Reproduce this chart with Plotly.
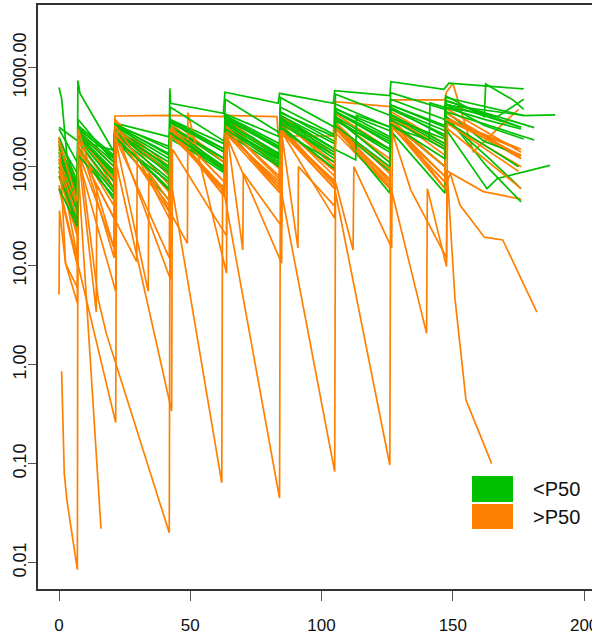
import plotly.graph_objects as go

# Concentration-time profiles, one list of (day, concentration) per subject.
# Group below the median (<P50)
g01 = [(0, 630), (1, 490), (3, 130), (7, 48), (7.3, 300), (21, 110), (21.3, 250), (42, 95), (42.3, 260),
       (63, 120), (63.3, 300), (84, 130), (84.3, 330), (105, 150), (105.3, 360), (126, 170), (126.3, 400),
       (147, 200), (147.3, 430), (176, 250)]
g02 = [(0, 180), (7, 85), (7.2, 740), (8, 550), (21, 140), (21.3, 275), (42, 200), (42.2, 620), (42.5, 437),
       (62.6, 346), (63.2, 565), (83.5, 437), (84, 551), (104.5, 437), (105, 585), (126, 522), (126.4, 722),
       (146.6, 605), (148.5, 696), (177, 610)]
g03 = [(0, 250), (6.6, 186), (21, 146), (21.3, 260), (42, 160), (42.3, 300), (63, 170), (63.3, 340), (84, 200),
       (84.3, 400), (105, 210), (105.3, 430), (126, 250), (126.3, 480), (147, 300), (147.3, 520), (162, 320),
       (162.5, 685), (173, 470), (177, 380)]
g04 = [(0, 120), (7, 40), (7.3, 200), (21, 80), (21.3, 230), (42, 90), (42.3, 260), (63, 110), (63.3, 290),
       (84, 130), (84.3, 320), (105, 150), (105.3, 350), (126, 180), (126.3, 380), (147, 210), (147.3, 430),
       (162, 260), (177, 190)]
g05 = [(0, 100), (7, 30), (7.3, 180), (21, 60), (21.3, 210), (42, 75), (42.3, 230), (63, 95), (63.3, 260),
       (84, 110), (84.3, 280), (105, 120), (105.3, 300), (126, 140), (126.3, 330), (147, 160), (147.3, 360),
       (162, 180), (176, 130)]
g06 = [(0, 150), (7, 55), (7.3, 220), (21, 100), (21.3, 240), (42, 110), (42.3, 280), (63, 140), (63.3, 320),
       (84, 160), (84.3, 360), (105, 180), (105.3, 390), (126, 200), (126.3, 420), (147, 250), (147.3, 470),
       (176, 250)]
g07 = [(0, 90), (7, 23), (7.3, 160), (21, 46), (21.3, 190), (42, 46), (42.3, 200), (63, 86), (63.3, 240),
       (84, 117), (84.3, 260), (105, 93), (105.3, 250), (126, 90), (126.3, 280), (147, 100), (147.3, 300),
       (164, 120), (176, 60)]
g08 = [(0, 130), (7, 45), (7.3, 210), (21, 90), (21.3, 225), (42, 100), (42.3, 250), (63, 120), (63.3, 280),
       (84, 135), (84.3, 300), (105, 140), (105.3, 320), (126, 150), (126.3, 340), (147, 170), (147.3, 330),
       (163, 100), (176, 44)]
g09 = [(0, 200), (7, 70), (7.3, 250), (21, 120), (21.3, 265), (42, 130), (42.3, 300), (63, 150), (63.3, 330),
       (84, 170), (84.3, 350), (105, 200), (105.3, 380), (126, 230), (126.3, 420), (147, 260), (147.3, 460),
       (162, 350), (181, 248)]
g10 = [(0, 110), (7, 35), (7.3, 190), (21, 70), (21.3, 200), (42, 60), (42.3, 190), (63, 95), (63.3, 220),
       (84, 100), (84.3, 230), (105, 110), (105.3, 250), (126, 54), (126.3, 230), (147, 54), (147.3, 240),
       (163, 60), (167, 76), (187, 103)]
g11 = [(0, 170), (7, 60), (7.3, 230), (21, 110), (21.3, 255), (42, 120), (42.3, 290), (63, 140), (63.3, 310),
       (84, 150), (84.3, 330), (105, 170), (105.3, 360), (126, 190), (126.3, 390), (147, 230), (147.3, 420),
       (177, 330)]
g12 = [(0, 80), (7, 28), (7.3, 150), (21, 55), (21.3, 185), (42, 70), (42.3, 210), (63, 100), (63.3, 250),
       (84, 120), (84.3, 270), (105, 130), (105.3, 290), (126, 150), (126.3, 310), (147, 190), (147.3, 360),
       (181, 186)]
g13 = [(0, 140), (7, 50), (7.3, 200), (21, 85), (21.3, 220), (42, 85), (42.3, 240), (63, 100), (63.3, 270),
       (84, 125), (84.3, 290), (105, 130), (105.3, 310), (126, 110), (126.3, 300), (147, 150), (147.3, 400),
       (167, 320), (177, 480)]
g14 = [(0, 240), (7, 110), (7.3, 260), (21, 130), (21.3, 270), (42, 150), (42.3, 400), (63, 180), (63.3, 480),
       (84, 220), (84.3, 500), (105, 250), (105.3, 540), (126, 330), (126.3, 560), (147, 380), (147.3, 500),
       (177, 328), (189, 333)]
g15 = [(0, 160), (7, 65), (7.3, 240), (21, 125), (21.3, 260), (42, 135), (42.3, 280), (63, 150), (63.3, 300),
       (84, 155), (84.3, 310), (105, 150), (113, 117), (113.3, 330), (141, 186), (141.3, 440), (162, 300),
       (176, 240)]
g16 = [(0, 60), (7, 25), (7.3, 130), (21, 50), (21.3, 200), (42, 58), (42.3, 220), (63, 90), (63.3, 240),
       (84, 105), (84.3, 250), (105, 95), (105.3, 260), (126, 100), (126.3, 270), (147, 120), (147.3, 290),
       (175, 100)]

# Group above the median (>P50)
o01 = [(0, 150), (7, 60), (7.3, 200), (21, 90), (21.3, 325), (42, 325), (42.3, 330), (62.5, 320), (62.8, 330),
       (83, 320), (83.5, 204), (104.5, 204), (105, 453), (126, 404), (126.3, 472), (147, 472), (147.5, 560),
       (150, 696), (157.8, 142), (175, 380)]
o02 = [(0, 170), (7, 50), (7.3, 250), (21, 60), (21.3, 300), (42, 80), (42.3, 280), (63, 90), (63.3, 290),
       (84, 95), (84.3, 300), (105, 100), (105.3, 320), (126, 110), (126.3, 330), (147, 130), (147.3, 350),
       (175, 130)]
o03 = [(0, 140), (7, 35), (7.3, 220), (21, 70), (21.3, 260), (42, 65), (42.3, 250), (63, 70), (63.3, 260),
       (84, 75), (84.3, 270), (105, 80), (105.3, 280), (126, 85), (126.3, 300), (147, 100), (147.3, 320),
       (176, 120)]
o04 = [(0, 100), (7, 25), (7.3, 180), (21, 55), (21.3, 230), (42, 55), (42.3, 230), (63, 60), (63.3, 240),
       (84, 60), (84.3, 250), (105, 65), (105.3, 260), (126, 70), (126.3, 270), (147, 60), (147.3, 92),
       (161.6, 56), (176, 47)]
o05 = [(0, 190), (7, 70), (7.3, 230), (21, 100), (21.3, 280), (42, 100), (42.3, 300), (63, 110), (63.3, 310),
       (84, 120), (84.3, 330), (105, 130), (105.3, 340), (126, 150), (126.3, 360), (147, 170), (147.3, 390),
       (176, 140)]
o06 = [(0, 120), (7, 40), (7.3, 200), (21, 75), (21.3, 250), (42, 85), (42.3, 260), (63, 95), (63.3, 280),
       (84, 100), (84.3, 290), (105, 110), (105.3, 300), (126, 120), (126.3, 320), (147, 150), (147.3, 350),
       (176, 123)]
o07 = [(0, 80), (7, 20), (7.3, 160), (21, 40), (21.3, 210), (42, 40), (42.3, 220), (63, 55), (63.3, 230),
       (84, 65), (84.3, 240), (105, 70), (105.3, 250), (126, 75), (126.3, 260), (147, 80), (147.3, 280),
       (176, 100)]
o08 = [(0, 90), (7, 20), (7.3, 140), (21, 15), (21.3, 200), (34, 5.5), (34.2, 85), (48.9, 16.8), (49.1, 350),
       (63.8, 8.4), (64, 220), (70, 14.4), (70.2, 86), (84.8, 25), (85, 200), (91, 15.1), (91.2, 100),
       (105, 40), (105.3, 220), (126, 60), (126.3, 250), (134, 58), (147.6, 12), (148, 300), (176, 150)]
o09 = [(1, 0.86), (2, 0.08), (3, 0.043), (7, 0.0085), (7.2, 150), (14.2, 3.4), (14.4, 65), (29.6, 11),
       (29.8, 126), (42, 30), (42.3, 250), (63, 55), (63.3, 250), (84, 60), (84.3, 260), (105, 65),
       (105.3, 270), (126, 70), (126.3, 280), (147, 80), (147.3, 300), (176, 130)]
o10 = [(0, 110), (7, 30), (7.3, 95), (16, 0.022)]
o11 = [(0, 120), (7, 12), (7.3, 180), (15, 4.5), (18, 2.07), (42, 0.02), (42.3, 80), (62, 0.064), (62.3, 66),
       (84, 0.045), (84.3, 63), (105, 0.083), (105.3, 55), (126, 0.097), (126.3, 63), (140, 2.07), (140.3, 60),
       (147.6, 9.8), (147.8, 92), (150.8, 4.7), (155, 0.44), (161.6, 0.16), (164.8, 0.1)]
o12 = [(0, 65), (21.6, 0.26), (21.9, 104), (42.9, 0.34), (43.2, 150), (63.8, 20), (64, 200), (84.8, 10.6),
       (85, 220), (105, 30), (105.3, 70), (112, 14.4), (112.3, 100), (126.7, 15.1), (127, 300), (147, 60),
       (149, 86), (152.7, 41), (162, 19.4), (169, 18.2), (182, 3.4)]
o13 = [(0, 5.1), (0.2, 36), (2.5, 10.5), (7, 4.2), (7.3, 120), (21.6, 5.5), (21.9, 220), (42.5, 7.2),
       (42.8, 250), (63, 70), (63.3, 260), (84, 80), (84.3, 250), (105, 90), (105.3, 260), (126, 95),
       (126.3, 280), (147, 100), (147.3, 300), (175, 150)]
o14 = [(0, 200), (2.5, 10.5), (7, 6), (7.3, 200), (21, 12), (21.3, 230), (42, 35), (42.3, 250), (63, 50),
       (63.3, 250), (84, 55), (84.3, 240), (105, 60), (105.3, 250), (126, 65), (126.3, 260), (147, 70),
       (147.3, 280), (175, 90)]
o15 = [(0, 60), (7, 10), (7.3, 150), (21, 30), (21.3, 260), (42, 45), (42.3, 240), (63, 50), (63.3, 220),
       (84, 55), (84.3, 230), (105, 60), (105.3, 240), (126, 62), (126.3, 260), (147, 70), (147.3, 250),
       (176, 60)]
o16 = [(0, 180), (7, 45), (7.3, 240), (21, 15), (21.3, 200), (42, 12), (42.3, 210), (63, 60), (63.3, 220),
       (84, 70), (84.3, 230), (105, 72), (105.3, 220)]

below_p50 = [g01, g02, g03, g04, g05, g06, g07, g08, g09, g10, g11, g12, g13, g14, g15, g16]
above_p50 = [o01, o02, o03, o04, o05, o06, o07, o08, o09, o10, o11, o12, o13, o14, o15, o16]

group_labels = ["<P50", ">P50"]
group_colors = ["#00C000", "#FF8000"]

x_ticks = [0, 50, 100, 150, 200]
y_ticks = [0.01, 0.1, 1, 10, 100, 1000]
y_tick_text = ["0.01", "0.10", "1.00", "10.00", "100.00", "1000.00"]

FONT = "Liberation Sans, Arial, Helvetica, sans-serif"

fig = go.Figure()


def add_profile(points, color):
    fig.add_trace(go.Scatter(
        x=[p[0] for p in points],
        y=[p[1] for p in points],
        mode="lines",
        line=dict(color=color, width=1.7),
        showlegend=False,
        hoverinfo="skip",
    ))


for i in range(max(len(below_p50), len(above_p50))):
    if i < len(below_p50):
        add_profile(below_p50[i], group_colors[0])
    if i < len(above_p50):
        add_profile(above_p50[i], group_colors[1])

# Legend: filled colour keys with labels, lower right of the panel
key_x0, key_x1 = 0.7834, 0.8574
key_rows = [(0.149, 0.1935), (0.1027, 0.1455)]
for (y0, y1), label, color in zip(key_rows, group_labels, group_colors):
    fig.add_shape(type="rect", xref="paper", yref="paper", x0=key_x0, x1=key_x1, y0=y0, y1=y1,
                  fillcolor=color, line=dict(width=0))
    fig.add_annotation(xref="paper", yref="paper", x=0.889, y=(y0 + y1) / 2, xanchor="left",
                       yanchor="middle", showarrow=False,
                       text=label.replace("<", "&lt;").replace(">", "&gt;"),
                       font=dict(family=FONT, size=20, color="#111"))

fig.update_layout(
    width=592, height=634,
    margin=dict(l=38, r=0, t=5, b=45, autoexpand=False),
    paper_bgcolor="white", plot_bgcolor="white",
    showlegend=False,
    xaxis=dict(
        range=[-8, 203],
        tickvals=x_ticks,
        ticks="outside", ticklen=10, tickwidth=1.2, tickcolor="#555",
        showline=True, linecolor="#333", linewidth=1.6, mirror=True,
        showgrid=False, zeroline=False,
        tickfont=dict(family=FONT, size=17, color="#111"),
        ticklabelstandoff=10,
        ticklabeloverflow="allow",
        automargin=False,
    ),
    yaxis=dict(
        type="log",
        range=[-2.266, 3.633],
        tickvals=y_ticks, ticktext=y_tick_text,
        tickangle=-90,
        ticks="outside", ticklen=8, tickwidth=1.2, tickcolor="#555",
        showline=True, linecolor="#333", linewidth=1.6, mirror=False,
        showgrid=False, zeroline=False,
        tickfont=dict(family=FONT, size=18, color="#111"),
        ticklabelstandoff=-5,
        ticklabeloverflow="allow",
        automargin=False,
    ),
)

fig.write_html("out.html")
